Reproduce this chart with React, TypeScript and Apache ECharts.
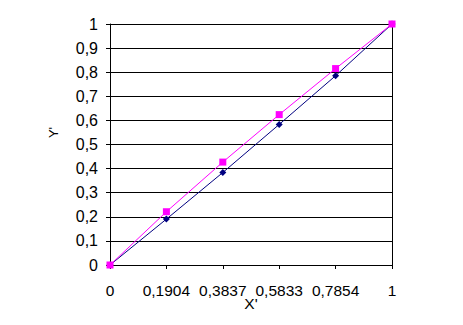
import React, { useEffect, useRef } from "react";
import * as echarts from "echarts";

const categories = ["0", "0,1904", "0,3837", "0,5833", "0,7854", "1"];
const seriesBlue = [0, 0.1904, 0.3837, 0.5833, 0.7854, 1];
const seriesMagenta = [0, 0.221, 0.427, 0.624, 0.815, 1];

const FONT = "Liberation Sans, Arial, sans-serif";

export default function App() {
  const ref = useRef<HTMLDivElement>(null);
  useEffect(() => {
    if (!ref.current) return;
    const chart = echarts.init(ref.current, null, { renderer: "svg" });
    chart.setOption({
      animation: false,
      backgroundColor: "#ffffff",
      grid: { left: 110, right: 71, top: 24, bottom: 60 },
      xAxis: {
        type: "category",
        data: categories,
        boundaryGap: false,
        name: "X'",
        nameLocation: "middle",
        nameGap: 30,
        nameMoveOverlap: false,
        nameTextStyle: { color: "#000", fontSize: 15.5, fontFamily: FONT },
        axisLine: { show: true, lineStyle: { color: "#000", width: 1 } },
        axisTick: { show: true, length: 4, lineStyle: { color: "#000" } },
        axisLabel: {
          color: "#000",
          fontSize: 15.5,
          fontFamily: FONT,
          margin: 17,
          interval: 0,
        },
        splitLine: { show: false },
      },
      yAxis: [
        {
          type: "value",
          min: 0,
          max: 1,
          interval: 0.1,
          name: "Y'",
          nameLocation: "middle",
          nameGap: 50,
          nameRotate: 90,
          nameMoveOverlap: false,
          nameTextStyle: {
            color: "#000",
            fontSize: 13,
            fontFamily: FONT,
            padding: [0, 0, 0, 24],
          },
          axisLine: { show: true, lineStyle: { color: "#000", width: 1 } },
          axisTick: { show: true, length: 4, lineStyle: { color: "#000" } },
          axisLabel: {
            color: "#000",
            fontSize: 16,
            fontFamily: FONT,
            margin: 12,
            formatter: (v: number) => (Math.round(v * 10) / 10).toString().replace(".", ","),
          },
          splitLine: { show: true, lineStyle: { color: "#000", width: 1 } },
        },
        {
          type: "value",
          min: 0,
          max: 1,
          interval: 0.1,
          position: "right",
          axisLine: { show: true, lineStyle: { color: "#000", width: 1 } },
          axisTick: { show: false },
          axisLabel: { show: false },
          splitLine: { show: false },
        },
      ],
      series: [
        {
          type: "line",
          data: seriesBlue,
          symbol: "diamond",
          symbolSize: 7,
          lineStyle: { color: "#000080", width: 1 },
          itemStyle: { color: "#000080" },
        },
        {
          type: "line",
          data: seriesMagenta,
          symbol: "rect",
          symbolSize: 7,
          lineStyle: { color: "#ff00ff", width: 1 },
          itemStyle: { color: "#ff00ff" },
        },
      ],
    });
    return () => chart.dispose();
  }, []);
  return <div ref={ref} style={{ width: 463, height: 325, position: "absolute", left: 0, top: 0 }} />;
}
